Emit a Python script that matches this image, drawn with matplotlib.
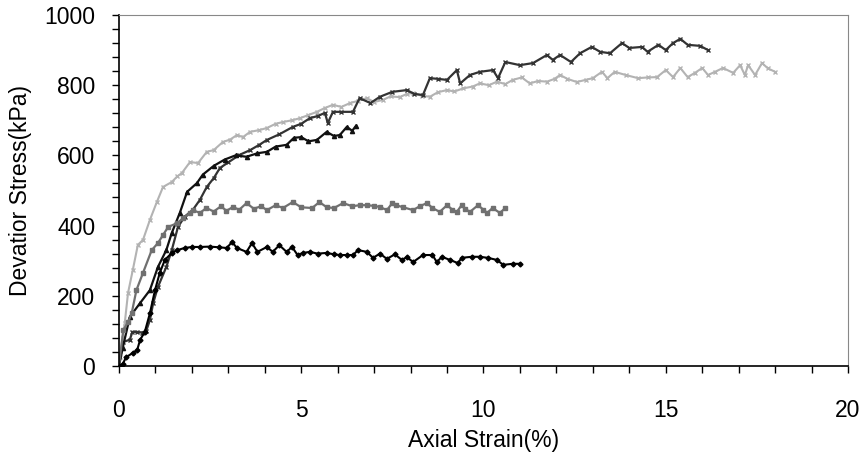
import numpy as np
import matplotlib
matplotlib.use('Agg')
import matplotlib.pyplot as plt
from matplotlib.ticker import MultipleLocator

# Light gray curve (ends at 18 %)
strain_a = [0, 0.03, 0.1, 0.16, 0.25, 0.38, 0.52, 0.66, 0.85, 1.04, 1.21, 1.45, 1.6, 1.73, 1.95,
            2.17, 2.41, 2.6, 2.85, 3.05, 3.24, 3.4, 3.6, 3.85, 4.06, 4.3, 4.5, 4.75, 4.97, 5.2,
            5.43, 5.65, 5.87, 6.1, 6.34, 6.55, 6.8, 7.0, 7.24, 7.45, 7.7, 7.9, 8.07, 8.3, 8.53,
            8.75, 9.0, 9.2, 9.45, 9.7, 9.9, 10.15, 10.37, 10.6, 10.8, 11.05, 11.27, 11.5, 11.74,
            11.95, 12.1, 12.3, 12.56, 12.8, 13.0, 13.25, 13.4, 13.6, 13.9, 14.24, 14.5, 14.76,
            15.0, 15.2, 15.4, 15.6, 15.8, 16.0, 16.16, 16.35, 16.57, 16.85, 17.04, 17.17, 17.26,
            17.45, 17.64, 17.8, 18.0]
stress_a = [0, 26, 80, 122, 208, 273, 345, 359, 416, 467, 510, 524, 540, 550, 581,
            578, 610, 615, 638, 645, 658, 652, 667, 672, 678, 690, 695, 700, 706, 715,
            724, 735, 744, 738, 749, 755, 763, 752, 758, 768, 766, 775, 778, 770, 767,
            780, 786, 782, 791, 796, 805, 800, 810, 803, 815, 822, 805, 812, 810,
            818, 829, 818, 809, 815, 820, 838, 820, 838, 829, 820, 822, 823,
            843, 823, 849, 823, 835, 849, 829, 838, 849, 835, 857, 829, 857,
            829, 863, 848, 838]

# Dark gray curve (ends at ~16 %)
strain_b = [0, 0.12, 0.3, 0.37, 0.5, 0.62, 0.75, 0.85, 0.94, 1.07, 1.3, 1.45, 1.62, 1.8, 2.03,
            2.22, 2.41, 2.6, 2.77, 3.0, 3.3, 3.6, 3.85, 4.06, 4.4, 4.77, 5.0, 5.24, 5.45, 5.65,
            5.73, 5.87, 6.1, 6.42, 6.6, 6.9, 7.16, 7.5, 7.9, 8.1, 8.34, 8.53, 8.75, 9.0, 9.27,
            9.36, 9.63, 9.9, 10.26, 10.4, 10.6, 11.0, 11.36, 11.74, 11.9, 12.1, 12.4, 12.65,
            12.97, 13.2, 13.47, 13.8, 14.0, 14.35, 14.5, 14.8, 15.0, 15.2, 15.4, 15.6, 15.94,
            16.16]
stress_b = [0, 68, 75, 97, 97, 95, 100, 131, 179, 225, 282, 330, 396, 425, 445,
            473, 510, 535, 564, 580, 601, 615, 630, 644, 660, 681, 690, 706, 712, 721,
            692, 724, 724, 724, 763, 749, 767, 781, 786, 775, 772, 820, 818, 815, 843,
            805, 829, 838, 843, 820, 866, 857, 863, 886, 872, 886, 866, 891,
            909, 895, 891, 920, 906, 909, 895, 915, 900, 920, 932, 915, 912,
            900]

# Black triangles (ends at 6.5 %)
strain_c = [0, 0.1, 0.3, 0.58, 0.85, 1.07, 1.3, 1.45, 1.67, 1.87, 2.14, 2.3, 2.6, 2.9, 3.2,
            3.5, 3.8, 4.06, 4.3, 4.6, 4.8, 5.0, 5.2, 5.43, 5.7, 5.9, 6.06, 6.25, 6.4, 6.5]
stress_c = [0, 50, 140, 179, 216, 282, 330, 379, 436, 496, 521, 545, 570, 588, 600,
            596, 606, 610, 625, 630, 650, 652, 640, 644, 667, 655, 658, 681, 670, 684]

# Medium gray curve (plateau ~450)
strain_d = [0, 0.12, 0.25, 0.35, 0.48, 0.66, 0.9, 1.07, 1.21, 1.35, 1.6, 1.76, 1.95, 2.03,
            2.22, 2.4, 2.6, 2.8, 2.95, 3.13, 3.3, 3.5, 3.7, 3.9, 4.06, 4.3, 4.5, 4.77, 5.0,
            5.3, 5.5, 5.7, 5.9, 6.15, 6.4, 6.6, 6.8, 7.0, 7.16, 7.35, 7.5, 7.6, 7.8, 8.07,
            8.25, 8.45, 8.6, 8.8, 9.0, 9.15, 9.27, 9.4, 9.5, 9.63, 9.85, 10.0, 10.1, 10.25,
            10.45, 10.6]
stress_d = [0, 102, 125, 150, 216, 265, 330, 350, 373, 396, 407, 421, 436, 444,
            436, 450, 440, 455, 442, 453, 445, 464, 448, 455, 444, 458, 450, 467, 452,
            450, 467, 452, 450, 464, 455, 458, 458, 456, 453, 444, 464, 458, 452, 444,
            455, 464, 450, 439, 458, 445, 439, 458, 447, 439, 458, 445, 436, 450,
            436, 450]

# Black dots (plateau ~330, ends at 11 %)
strain_e = [0, 0.1, 0.2, 0.38, 0.5, 0.58, 0.71, 0.85, 0.99, 1.12, 1.26, 1.45, 1.6, 1.8, 2.0,
            2.22, 2.5, 2.75, 2.96, 3.1, 3.24, 3.5, 3.65, 3.8, 4.06, 4.22, 4.4, 4.6, 4.75, 4.9,
            5.05, 5.24, 5.45, 5.7, 5.9, 6.06, 6.25, 6.42, 6.56, 6.8, 6.97, 7.16, 7.35, 7.57,
            7.76, 7.9, 8.07, 8.34, 8.6, 8.72, 8.86, 9.08, 9.3, 9.4, 9.68, 9.9, 10.12, 10.37,
            10.54, 10.8, 11.0]
stress_e = [0, 5, 25, 37, 45, 74, 97, 150, 216, 265, 302, 322, 330, 336, 339,
            339, 340, 338, 336, 353, 336, 325, 350, 325, 339, 325, 344, 325, 339, 316,
            322, 325, 320, 322, 318, 316, 316, 316, 330, 325, 308, 320, 305, 318,
            302, 310, 296, 316, 316, 296, 311, 302, 293, 308, 311, 311, 308, 302,
            288, 291, 291]

plt.rcParams['font.family'] = ['Liberation Sans', 'DejaVu Sans']

fig = plt.figure(figsize=(8.68, 4.54), dpi=100)
ax = fig.add_axes([0.137, 0.194, 0.84, 0.773])

ax.plot(strain_a, stress_a, color='#b3b3b3', marker='x', markersize=3, linewidth=1.5)
ax.plot(strain_b, stress_b, color='#333333', marker='x', markersize=3.5, linewidth=1.6)
ax.plot(strain_c, stress_c, color='#111111', marker='^', markersize=3, linewidth=1.6)
ax.plot(strain_d, stress_d, color='#707070', marker='s', markersize=2.5, linewidth=1.6)
ax.plot(strain_e, stress_e, color='#000000', marker='D', markersize=2.5, linewidth=1.5)

ax.set_xlim(0, 20)
ax.set_ylim(0, 1000)
ax.xaxis.set_major_locator(MultipleLocator(5))
ax.xaxis.set_minor_locator(MultipleLocator(1))
ax.yaxis.set_major_locator(MultipleLocator(200))
ax.yaxis.set_minor_locator(MultipleLocator(40))
ax.tick_params(axis='both', which='both', direction='out', length=5, width=1, color='black')
ax.tick_params(axis='both', which='major', labelsize=16.5)
ax.tick_params(axis='y', which='major', pad=12)
ax.tick_params(axis='x', which='major', pad=19)

for side in ['top', 'right']:
    ax.spines[side].set_color('#888888')
for side in ['left', 'bottom']:
    ax.spines[side].set_color('black')
    ax.spines[side].set_linewidth(1.2)

ax.set_xlabel('Axial Strain(%)', fontsize=16.5, labelpad=5)
ax.set_ylabel('Devatior Stress(kPa)', fontsize=16.5, labelpad=9)

fig.savefig('out.png', dpi=100)
